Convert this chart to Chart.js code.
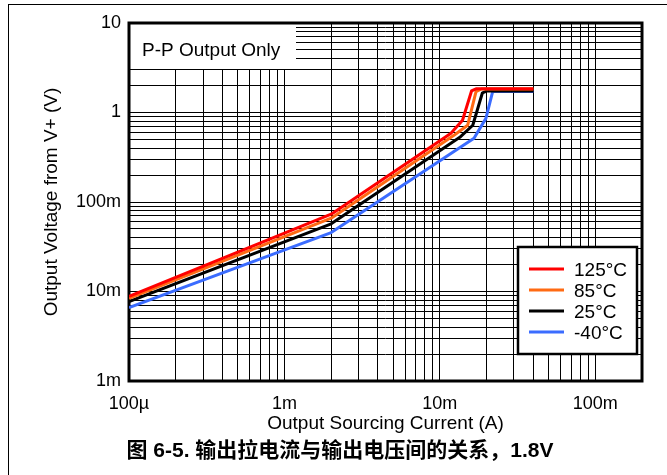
<!DOCTYPE html>
<html>
<head>
<meta charset="utf-8">
<script src="https://cdn.jsdelivr.net/npm/chart.js@4/dist/chart.umd.min.js"></script>
<style>
  html, body { margin: 0; padding: 0; background: #fff; }
  #wrap { position: relative; width: 667px; height: 475px; overflow: hidden; }
  #frame { position: absolute; left: 8px; top: 4px; right: -2px; bottom: -2px;
           border-top: 1px solid #000; border-left: 1px solid #000; pointer-events: none; }
</style>
</head>
<body>
<div id="wrap">
  <canvas id="chart" width="667" height="475"></canvas>
  <div id="frame"></div>
</div>
<script>
// Output sourcing current (A) vs. output voltage from V+ (V), one pair per temperature
const seriesLabels = ['125°C', '85°C', '25°C', '-40°C'];

const current125 = [1e-4, 0.002, 0.0118, 0.014, 0.016, 0.0171, 0.04];
const volts125   = [0.0088, 0.073, 0.586, 0.82, 1.74, 1.84, 1.84];

const current85  = [1e-4, 0.002, 0.0124, 0.0151, 0.0171, 0.0185, 0.04];
const volts85    = [0.0084, 0.066, 0.561, 0.72, 1.71, 1.83, 1.83];

const current25  = [1e-4, 0.002, 0.0136, 0.0163, 0.0188, 0.0202, 0.04];
const volts25    = [0.0077, 0.057, 0.537, 0.72, 1.66, 1.74, 1.74];

const currentM40 = [1e-4, 0.002, 0.0166, 0.0198, 0.0219, 0.04];
const voltsM40   = [0.0066, 0.0455, 0.515, 0.86, 1.72, 1.72];

const seriesColors = ['#ff0000', '#ff6a13', '#000000', '#3b6cff'];

// Axis ranges and decade labels
const xRange = [1e-4, 0.2];
const yRange = [1e-3, 10];
const xDecades = [1e-4, 1e-3, 1e-2, 1e-1];
const xTickLabels = ['100µ', '1m', '10m', '100m'];
const yDecades = [1e-3, 1e-2, 1e-1, 1, 10];
const yTickLabels = ['1m', '10m', '100m', '1', '10'];

const noteText = 'P-P Output Only';
const xTitle = 'Output Sourcing Current (A)';
const yTitle = 'Output Voltage from V+ (V)';
const caption = '图 6-5. 输出拉电流与输出电压间的关系，1.8V';

const FONT = '"Liberation Sans", Arial, Helvetica, sans-serif';

// 1..9 gridlines in every decade between min and max
function logGrid(min, max) {
  const vals = [];
  for (let e = Math.floor(Math.log10(min)); e <= Math.ceil(Math.log10(max)); e++) {
    for (let m = 1; m <= 9; m++) {
      const v = parseFloat((m * Math.pow(10, e)).toPrecision(6));
      if (v >= min * 0.999999 && v <= max * 1.000001) vals.push(v);
    }
  }
  return vals;
}

function labelFor(value, decades, labels) {
  for (let i = 0; i < decades.length; i++) {
    if (Math.abs(Math.log10(value) - Math.log10(decades[i])) < 1e-6) return labels[i];
  }
  return '';
}

const toPoints = (xs, ys) => xs.map((x, i) => ({ x, y: ys[i] }));
const seriesData = [
  toPoints(current125, volts125),
  toPoints(current85, volts85),
  toPoints(current25, volts25),
  toPoints(currentM40, voltsM40)
];

// Note box, heavy plot frame and the boxed legend inside the plot area
const panelPlugin = {
  id: 'panel',
  beforeDatasetsDraw(chart) {
    const { ctx, chartArea: a } = chart;
    ctx.save();
    ctx.fillStyle = '#fff';
    ctx.fillRect(a.left, a.top, 167, 46);
    ctx.fillStyle = '#000';
    ctx.font = '19px ' + FONT;
    ctx.textAlign = 'left';
    ctx.textBaseline = 'alphabetic';
    ctx.fillText(noteText, a.left + 13, a.top + 32.5);
    ctx.lineWidth = 3;
    ctx.strokeStyle = '#000';
    ctx.strokeRect(a.left, a.top, a.right - a.left, a.bottom - a.top);
    ctx.restore();
  },
  afterDatasetsDraw(chart) {
    const { ctx, chartArea: a } = chart;
    const w = 119, h = 107;
    const bx = a.right - 5 - w, by = a.bottom - 27 - h;
    ctx.save();
    ctx.fillStyle = '#fff';
    ctx.fillRect(bx, by, w, h);
    ctx.lineWidth = 2.5;
    ctx.strokeStyle = '#000';
    ctx.strokeRect(bx, by, w, h);
    ctx.font = '19px ' + FONT;
    ctx.textAlign = 'left';
    ctx.textBaseline = 'alphabetic';
    chart.data.datasets.forEach((ds, i) => {
      const ly = by + 22 + i * 21;
      ctx.strokeStyle = ds.borderColor;
      ctx.lineWidth = 3;
      ctx.beginPath();
      ctx.moveTo(bx + 11, ly);
      ctx.lineTo(bx + 46, ly);
      ctx.stroke();
      ctx.fillStyle = '#000';
      ctx.fillText(ds.label, bx + 56, ly + 7);
    });
    ctx.restore();
  }
};

const xGrid = logGrid(xRange[0], xRange[1]);
const yGrid = logGrid(yRange[0], yRange[1]);

new Chart(document.getElementById('chart'), {
  type: 'scatter',
  data: {
    datasets: seriesLabels.map((label, i) => ({
      label,
      data: seriesData[i],
      showLine: true,
      borderColor: seriesColors[i],
      backgroundColor: seriesColors[i],
      borderWidth: 3,
      pointRadius: 0,
      borderJoinStyle: 'round',
      borderCapStyle: 'butt',
      tension: 0
    }))
  },
  options: {
    responsive: false,
    animation: false,
    devicePixelRatio: 1,
    layout: { padding: { left: 38, right: 25, top: 23, bottom: 0 } },
    plugins: {
      legend: { display: false },
      tooltip: { enabled: false },
      title: {
        display: true,
        position: 'bottom',
        text: caption,
        color: '#000',
        font: { family: '"Liberation Sans", "Noto Sans CJK SC", Arial, sans-serif', size: 21, weight: 'bold' },
        padding: { top: 0, bottom: 10.8 }
      }
    },
    scales: {
      x: {
        type: 'logarithmic',
        position: 'bottom',
        min: xRange[0],
        max: xRange[1],
        afterBuildTicks: (s) => { s.ticks = xGrid.map(v => ({ value: v })); },
        afterFit: (s) => { s.height = 58; },
        grid: { color: '#000', lineWidth: 1, drawTicks: false },
        border: { display: false },
        ticks: {
          autoSkip: false,
          maxRotation: 0,
          padding: 12,
          color: '#000',
          font: { family: FONT, size: 18 },
          callback: (v) => labelFor(v, xDecades, xTickLabels)
        },
        title: {
          display: true,
          text: xTitle,
          color: '#000',
          font: { family: FONT, size: 19 },
          padding: { top: 0, bottom: 3.6 }
        }
      },
      y: {
        type: 'logarithmic',
        position: 'left',
        min: yRange[0],
        max: yRange[1],
        afterBuildTicks: (s) => { s.ticks = yGrid.map(v => ({ value: v })); },
        afterFit: (s) => { s.width = 91; },
        grid: { color: '#000', lineWidth: 1, drawTicks: false },
        border: { display: false },
        ticks: {
          autoSkip: false,
          padding: 8,
          color: '#000',
          font: { family: FONT, size: 18 },
          callback: (v) => labelFor(v, yDecades, yTickLabels)
        },
        title: {
          display: true,
          text: yTitle,
          color: '#000',
          font: { family: FONT, size: 19 },
          padding: { top: 2.6, bottom: 0 }
        }
      }
    }
  },
  plugins: [panelPlugin]
});
</script>
</body>
</html>
